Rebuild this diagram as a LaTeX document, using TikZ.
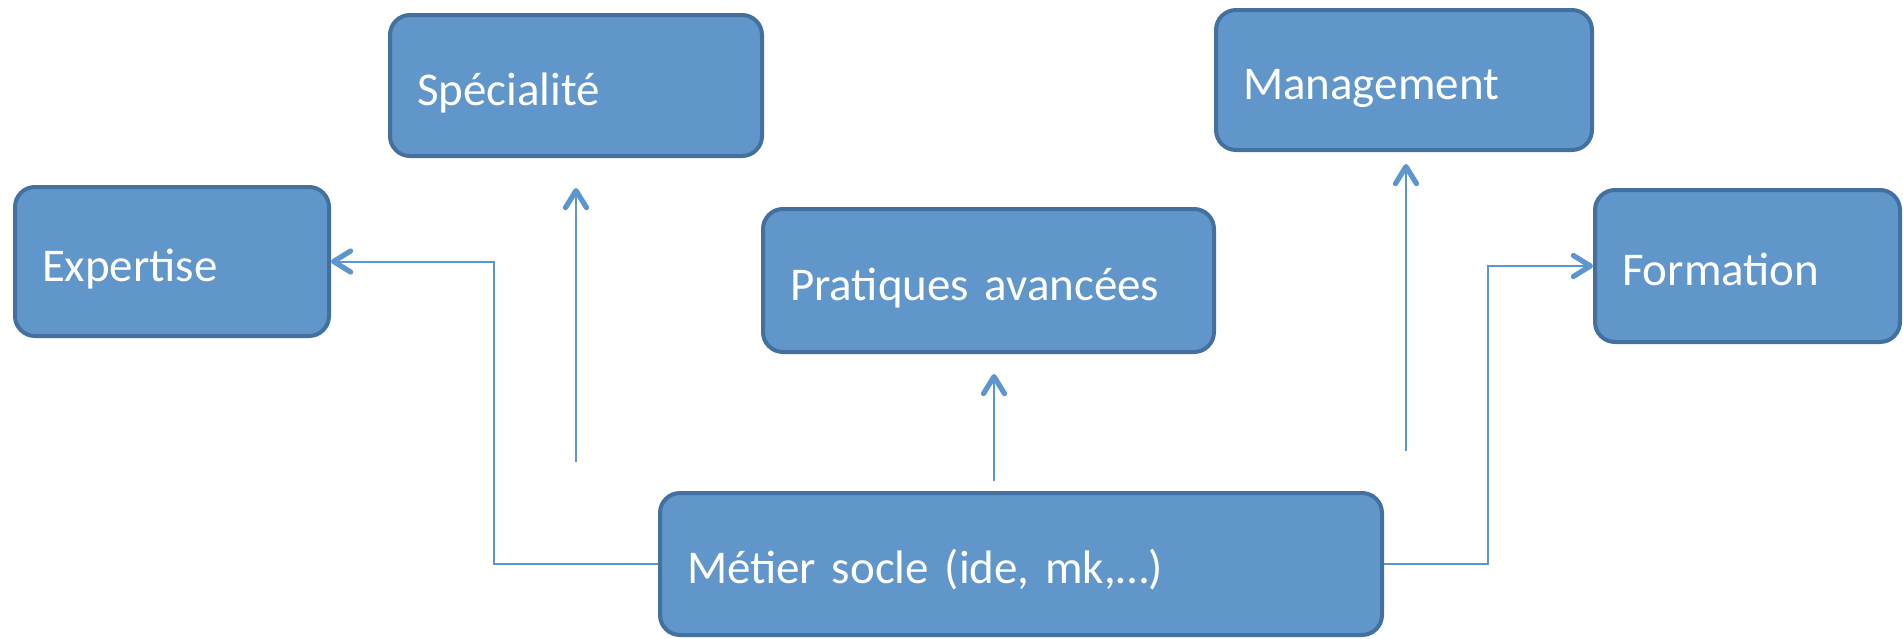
\documentclass[tikz,border=0pt]{standalone}
\usepackage{fontspec}
\setmainfont{Carlito}
\usetikzlibrary{arrows.meta}
\definecolor{boxfill}{RGB}{96,150,201}
\definecolor{boxdraw}{RGB}{67,112,158}
\definecolor{conncol}{RGB}{92,150,206}
\tikzset{
  box/.style={draw=boxdraw, fill=boxfill, line width=2pt, rounded corners=10pt,
    text=white, font=\fontsize{23.5pt}{28pt}\selectfont, align=left,
    inner xsep=13.5pt, inner ysep=0pt, text height=19.5pt, text depth=0pt},
  conn/.style={draw=conncol, line width=1pt},
  tipped/.style={conn, -{Straight Barb[length=8.5pt,width=10.5pt,line width=2.6pt,round]}},
}
\newcommand{\boxnode}[5]{% name, cx, cy, w, h, text
  \node[box, minimum width=#4*0.5pt, minimum height=#5*0.5pt, text width=#4*0.5pt-27pt] (#1) at (#2,#3)}
\begin{document}
\begin{tikzpicture}[x=0.5pt,y=-0.5pt]
\useasboundingbox (0,0) rectangle (1903,638);
\boxnode{spec}{576}{85.5}{372}{141} {Spécialité};
\boxnode{mgmt}{1404}{80}{376}{140} {Management};
\boxnode{expe}{172}{261.5}{314}{149} {Expertise};
\boxnode{prat}{988.5}{280.5}{451}{143} {Pratiques avancées};
\boxnode{form}{1747.5}{266}{305}{152} {Formation};
\boxnode{meti}{1021}{564}{722}{142} {Métier socle (ide, mk,…)};
% junction coordinates and free arrow ends
\coordinate (jl) at (494,400);
\coordinate (jr) at (1488,400);
\coordinate (sa) at (576,462);
\coordinate (sb) at (576,188);
\coordinate (pa) at (994,481);
\coordinate (pb) at (994,374);
\coordinate (ma) at (1406,451);
\coordinate (mb) at (1406,164);
\draw[tipped] (meti.west) -| (jl) |- (expe.east);
\draw[tipped] (meti.east) -| (jr) |- (form.west);
\draw[tipped] (sa) -- (sb);
\draw[tipped] (pa) -- (pb);
\draw[tipped] (ma) -- (mb);
\end{tikzpicture}
\end{document}
